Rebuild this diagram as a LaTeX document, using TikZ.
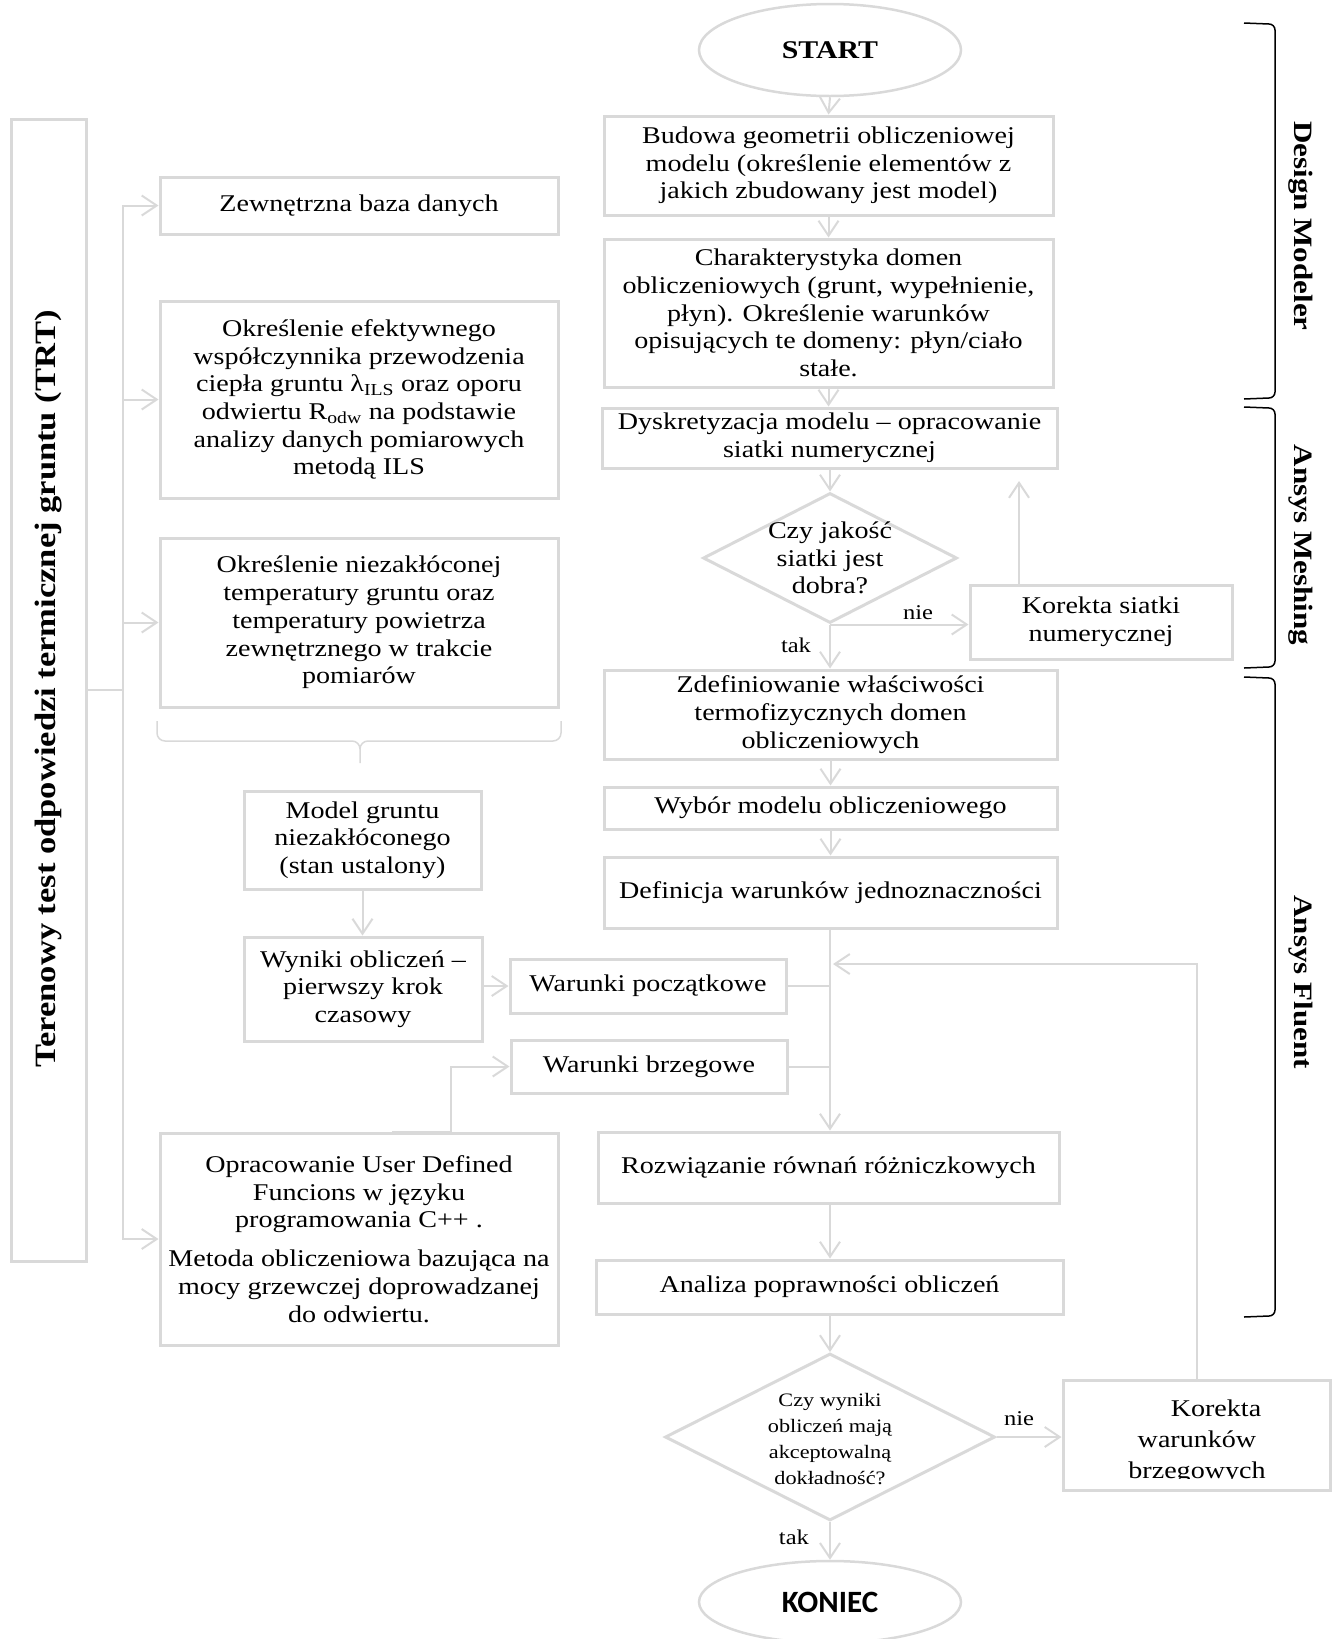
\documentclass[tikz,border=0pt]{standalone}
\usepackage{fontspec}
\setmainfont[FakeStretch=1.17]{Liberation Serif}
\newfontfamily\konfont{Carlito}
\usetikzlibrary{arrows.meta,shapes.geometric}
\definecolor{bgray}{RGB}{217,217,217}
\begin{document}
\begin{tikzpicture}[x=1pt,y=-1pt,
  box/.style={draw=bgray, line width=3pt, align=center, inner sep=0pt, font=\fontsize{24}{27.7}\selectfont},
  ln/.style={draw=bgray, line width=2pt},
  arr/.style={ln, -{Straight Barb[length=15pt,width=20pt,line width=2pt]}},
  lbl/.style={font=\fontsize{21}{25}\selectfont},
  side/.style={font=\bfseries\fontsize{26.5}{30}\selectfont, rotate=-90},
  brk/.style={draw=black, line width=1.5pt},
  brc/.style={draw=bgray, line width=1.5pt},
]
\useasboundingbox (0,0) rectangle (1332,1639);

% ---------- right main column ----------
\node (start) [ellipse, draw=bgray, line width=2.5pt, minimum width=262pt, minimum height=92pt, inner sep=0pt, font=\bfseries\fontsize{25.5}{30}\selectfont] at (830,50) {START};
\node (budowa) [box, minimum width=449pt, minimum height=99pt] at (828.5,165.5)
  {Budowa geometrii obliczeniowej\\modelu (określenie elementów z\\jakich zbudowany jest model)};
\node (charakt) [box, minimum width=449pt, minimum height=148pt] at (828.5,313)
  {Charakterystyka domen\\obliczeniowych (grunt, wypełnienie,\\płyn). Określenie warunków\\opisujących te domeny: płyn/ciało\\stałe.};
\node (dysk) [box, minimum width=455pt, minimum height=60pt] at (829.5,438)
  {Dyskretyzacja modelu – opracowanie\\siatki numerycznej};
\node (d1) [diamond, draw=bgray, line width=3pt, minimum width=254pt, minimum height=130pt, inner sep=0pt] at (830,558) {};
\node (d1t) [align=center, font=\fontsize{24}{27.5}\selectfont] at (830,558) {Czy jakość\\siatki jest\\dobra?};
\node (korsiat) [box, minimum width=262pt, minimum height=74pt] at (1101,622)
  {Korekta siatki\\numerycznej};
\node (zdef) [box, minimum width=453pt, minimum height=89pt] at (830.5,714.5)
  {Zdefiniowanie właściwości\\termofizycznych domen\\obliczeniowych};
\node (wybor) [box, minimum width=453pt, minimum height=42pt] at (830.5,808)
  {Wybór modelu obliczeniowego};
\node (defin) [box, minimum width=453pt, minimum height=71pt] at (830.5,892.5)
  {Definicja warunków jednoznaczności};
\node (rozw) [box, minimum width=461pt, minimum height=71pt] at (828.5,1167.5)
  {Rozwiązanie równań różniczkowych};
\node (anal) [box, minimum width=467pt, minimum height=54pt] at (829.5,1287)
  {Analiza poprawności obliczeń};
\node (d2) [diamond, draw=bgray, line width=3pt, minimum width=330pt, minimum height=167pt, inner sep=0pt] at (830,1437) {};
\node (d2t) [align=center, font=\fontsize{19}{25.7}\selectfont] at (830,1439) {Czy wyniki\\obliczeń mają\\akceptowalną\\dokładność?};
\node (korwar) [box, minimum width=267pt, minimum height=110pt] at (1196.5,1435) {};
\begin{scope}
  \clip (1064,1380) rectangle (1331,1478);
  \node (korwart) [align=center, font=\fontsize{24}{31}\selectfont] at (1197,1442) {\hspace*{38pt}Korekta\\warunków\\brzegowych};
\end{scope}
\node (koniec) [ellipse, draw=bgray, line width=2.5pt, minimum width=262pt, minimum height=82pt, inner sep=0pt, font=\konfont\bfseries\fontsize{31}{34}\selectfont] at (830,1602) {KONIEC};

% labels
\node (nie1) [lbl] at (918,613) {nie};
\node (tak1) [lbl] at (796,645) {tak};
\node (nie2) [lbl] at (1019,1419) {nie};
\node (tak2) [lbl] at (794,1537) {tak};

% ---------- left part ----------
\node (tall) [box, minimum width=75pt, minimum height=1142pt] at (48.5,690) {};
\node (title) [rotate=90, font=\bfseries\fontsize{29.5}{34}\selectfont] at (49,689) {Terenowy test odpowiedzi termicznej gruntu (TRT)};
\node (zew) [box, minimum width=398pt, minimum height=57pt] at (359,205.5) {Zewnętrzna baza danych};
\node (efekt) [box, minimum width=398pt, minimum height=197pt] at (359,399.5)
  {Określenie efektywnego\\współczynnika przewodzenia\\ciepła gruntu λ\textsubscript{ILS} oraz oporu\\odwiertu R\textsubscript{odw} na podstawie\\analizy danych pomiarowych\\metodą ILS};
\node (niez) [box, minimum width=398pt, minimum height=169pt] at (359,622.5)
  {Określenie niezakłóconej\\temperatury gruntu oraz\\temperatury powietrza\\zewnętrznego w trakcie\\pomiarów};
\node (model) [box, minimum width=237pt, minimum height=98pt] at (362.5,840)
  {Model gruntu\\niezakłóconego\\(stan ustalony)};
\node (wyniki) [box, minimum width=238pt, minimum height=104pt] at (363,989)
  {Wyniki obliczeń –\\pierwszy krok\\czasowy};
\node (wpocz) [box, minimum width=276pt, minimum height=54pt] at (648,986) {Warunki początkowe};
\node (wbrz) [box, minimum width=276pt, minimum height=53pt] at (649,1066.5) {Warunki brzegowe};
\node (oprac) [box, minimum width=398pt, minimum height=212pt] at (359,1239)
  {Opracowanie User Defined\\Funcions w języku\\programowania C++ .\\[11pt]Metoda obliczeniowa bazująca na\\mocy grzewczej doprowadzanej\\do odwiertu.};

% brace below left boxes
\draw[brc] (157,721) -- (157,733) to[out=-90,in=180] (165,741) -- (352,741) to[out=0,in=90] (360,749) -- (360,763);
\draw[brc] (561,721) -- (561,733) to[out=-90,in=0] (553,741) -- (368,741) to[out=180,in=90] (360,749);

% right brackets
\draw[brk] (1244,23) -- (1269,24) to[out=0,in=90] (1275,30) -- (1275,392) to[out=-90,in=0] (1269,398) -- (1244,399);
\draw[brk] (1244,407) -- (1269,408) to[out=0,in=90] (1275,414) -- (1275,661) to[out=-90,in=0] (1269,667) -- (1244,668);
\draw[brk] (1244,677) -- (1269,678) to[out=0,in=90] (1275,684) -- (1275,1310) to[out=-90,in=0] (1269,1316) -- (1244,1317);
\node (dm) [side] at (1301,226) {Design Modeler};
\node (am) [side] at (1301,545) {Ansys Meshing};
\node (af) [side] at (1301,982) {Ansys Fluent};

% ---------- connectors, main column ----------
\draw[arr] (start.south) -- (budowa.north);
\draw[arr] (budowa.south) -- (budowa.south |- charakt.north);
\draw[arr] (charakt.south) -- (charakt.south |- dysk.north);
\draw[arr] (dysk.south -| d1.north) -- (d1.north);
\draw[arr] (d1.south) -- (d1.south |- zdef.north);
\draw[arr] (d1.south) -- (korsiat.west |- d1.south);
\coordinate (kup) at (1019,481);
\draw[arr] (korsiat.north -| kup) -- (kup);
\draw[arr] (zdef.south) -- (wybor.north);
\draw[arr] (wybor.south) -- (defin.north);
\draw[arr] (defin.south -| d1.south) -- (d1.south |- rozw.north);
\draw[ln] (wpocz.east) -- (wpocz.east -| d1.south);
\draw[ln] (wbrz.east) -- (wbrz.east -| d1.south);
\draw[arr] (rozw.south -| d1.south) -- (d1.south |- anal.north);
\draw[arr] (anal.south -| d2.north) -- (d2.north);
\draw[arr] (d2.south) -- (koniec.north);
\draw[arr] (d2.east) -- (korwar.west |- d2.east);
\coordinate (loopc) at (833,964);
\draw[arr] (korwar.north) -- (korwar.north |- loopc) -- (loopc);

% ---------- connectors, left part ----------
\coordinate (tr) at (123,690);
\draw[ln] (tall.east) -- (tr);
\draw[arr] (tr) |- (zew.west);
\draw[arr] (tr) |- (efekt.west);
\draw[arr] (tr) |- (niez.west);
\draw[arr] (tr) |- (oprac.west);
\draw[arr] (model.south) -- (model.south |- wyniki.north);
\draw[arr] (wyniki.east |- wpocz.west) -- (wpocz.west);
\coordinate (os) at (392,1132);
\draw[arr] (os) -- (451,1132) |- (wbrz.west);
\end{tikzpicture}
\end{document}
